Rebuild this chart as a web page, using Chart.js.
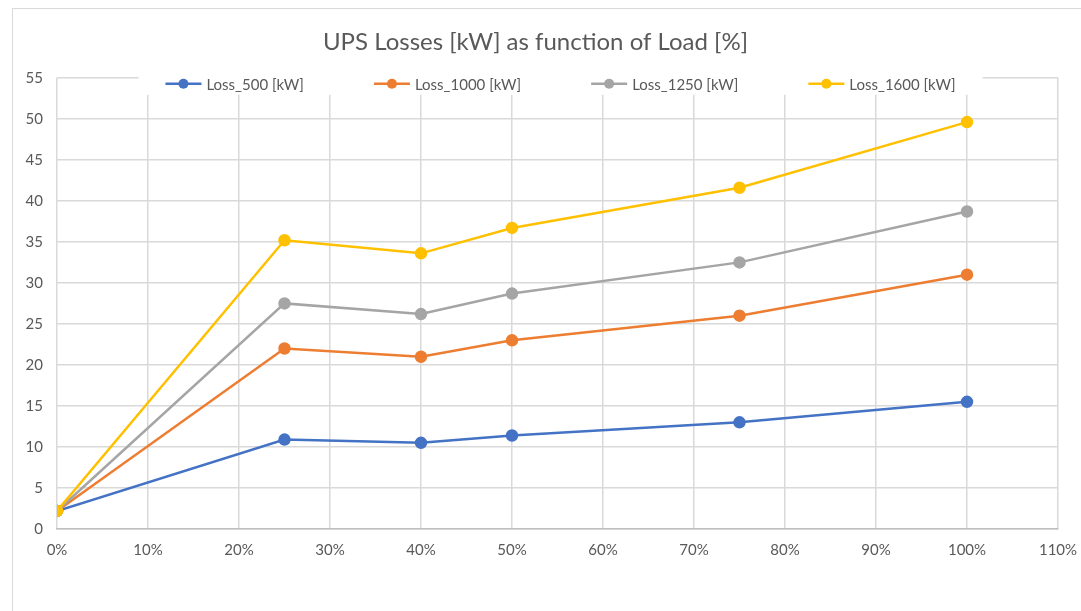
<!DOCTYPE html>
<html>
<head>
<meta charset="utf-8">
<script src="https://cdn.jsdelivr.net/npm/chart.js@4.4.0/dist/chart.umd.min.js"></script>
<style>
    body { margin: 0; background: #fff; }
    #box {
        position: absolute; left: 12px; top: 8px; width: 1100px; height: 620px;
        border-left: 1px solid #d9d9d9; border-top: 1px solid #d9d9d9;
    }
</style>
</head>
<body>
<div id="box"><canvas id="upsChart" width="1080" height="610"></canvas></div>
<script>
// Load points (%) and losses (kW)
const loadPct = [0, 25, 40, 50, 75, 100];
const loss500 = [2.2, 10.9, 10.5, 11.4, 13.0, 15.5];
const loss1000 = [2.2, 22.0, 21.0, 23.0, 26.0, 31.0];
const loss1250 = [2.2, 27.5, 26.2, 28.7, 32.5, 38.7];
const loss1600 = [2.2, 35.2, 33.6, 36.7, 41.6, 49.6];
const seriesNames = ['Loss_500 [kW]', 'Loss_1000 [kW]', 'Loss_1250 [kW]', 'Loss_1600 [kW]'];
const seriesColors = ['#4472C4', '#ED7D31', '#A5A5A5', '#FFC000'];
const seriesValues = [loss500, loss1000, loss1250, loss1600];

const FONT = 'Lato';

// Legend drawn inside the plot area on a white band (Excel style)
const insideLegend = {
    id: 'insideLegend',
    beforeDatasetsDraw(chart) {
        const { ctx, chartArea } = chart;
        ctx.save();
        ctx.font = '15px ' + FONT;
        const lineLen = 36, textGap = 5, itemGap = 70;
        const widths = seriesNames.map(n => ctx.measureText(n).width);
        let total = 0;
        widths.forEach((w, i) => { total += lineLen + textGap + w + (i > 0 ? itemGap : 0); });
        const cx = (chartArea.left + chartArea.right) / 2;
        const cy = chartArea.top + 6;
        let x = cx - total / 2 + 3;
        ctx.fillStyle = '#fff';
        ctx.fillRect(x - 27, cy - 11, total + 54, 22);
        seriesNames.forEach((name, i) => {
            const col = seriesColors[i];
            ctx.strokeStyle = col;
            ctx.lineWidth = 2.5;
            ctx.beginPath();
            ctx.moveTo(x, cy);
            ctx.lineTo(x + lineLen, cy);
            ctx.stroke();
            ctx.fillStyle = col;
            ctx.beginPath();
            ctx.arc(x + lineLen / 2, cy, 5, 0, Math.PI * 2);
            ctx.fill();
            ctx.fillStyle = '#595959';
            ctx.textBaseline = 'middle';
            ctx.fillText(name, x + lineLen + textGap, cy + 1);
            x += lineLen + textGap + widths[i] + itemGap;
        });
        ctx.restore();
    }
};

const datasets = seriesNames.map((name, i) => ({
    label: name,
    data: loadPct.map((p, j) => ({ x: p, y: seriesValues[i][j] })),
    borderColor: seriesColors[i],
    backgroundColor: seriesColors[i],
    borderWidth: 2.5,
    pointRadius: 5,
    pointHoverRadius: 5,
    showLine: true,
    tension: 0,
    order: seriesNames.length - i
}));

new Chart(document.getElementById('upsChart'), {
    type: 'scatter',
    data: { datasets: datasets },
    options: {
        responsive: false,
        animation: false,
        layout: { padding: { left: 0, right: 35, top: 0, bottom: 60 } },
        plugins: {
            legend: { display: false },
            tooltip: { enabled: false },
            title: {
                display: true,
                text: 'UPS Losses [kW] as function of Load [%]',
                color: '#595959',
                font: { family: FONT, size: 24, weight: 'normal', lineHeight: 1.2 },
                padding: { top: 19, bottom: 21 }
            }
        },
        scales: {
            x: {
                type: 'linear',
                min: 0,
                max: 110,
                ticks: {
                    stepSize: 10,
                    padding: 12,
                    color: '#595959',
                    font: { family: FONT, size: 15 },
                    callback: v => v + '%'
                },
                grid: { color: '#d9d9d9', lineWidth: 1.5, drawTicks: false },
                border: { color: '#bfbfbf', width: 1.5 },
                afterFit: s => { s.height = 30; }
            },
            y: {
                min: 0,
                max: 55,
                ticks: {
                    stepSize: 5,
                    padding: 14,
                    color: '#595959',
                    font: { family: FONT, size: 15 }
                },
                grid: { color: '#d9d9d9', lineWidth: 1.5, drawTicks: false },
                border: { display: false },
                afterFit: s => { s.width = 44; }
            }
        }
    },
    plugins: [insideLegend]
});
</script>
</body>
</html>
